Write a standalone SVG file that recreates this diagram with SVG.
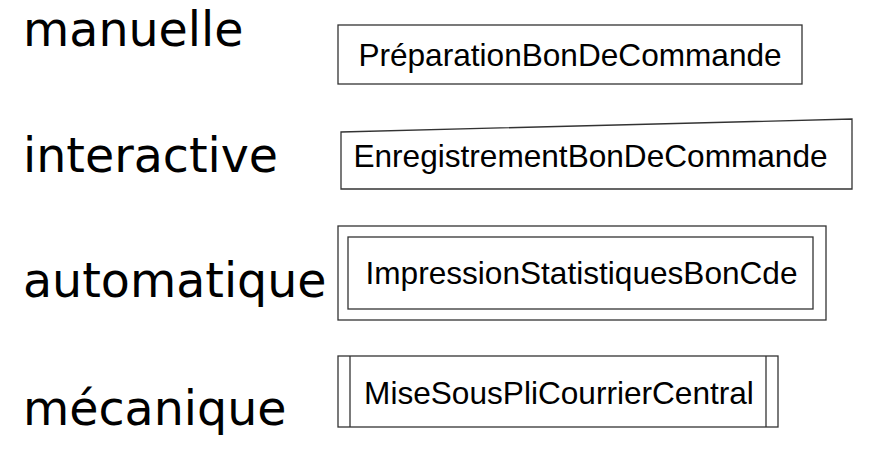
<svg xmlns="http://www.w3.org/2000/svg" width="870" height="461" viewBox="0 0 870 461">
<style>
.lbl{font-family:"DejaVu Sans",sans-serif;font-size:47.5px;fill:#000}
.t{font-family:"Liberation Sans",Arial,sans-serif;font-size:31.6px;fill:#000;text-anchor:middle}
.s{fill:#fff;stroke:#333;stroke-width:1.3}
.l{stroke:#333;stroke-width:1.3;fill:none}
</style>
<rect width="870" height="461" fill="#fff"/>
<text class="lbl" x="23" y="46">manuelle</text>
<text class="lbl" x="23" y="172">interactive</text>
<text class="lbl" x="23" y="297">automatique</text>
<text class="lbl" x="23" y="425">mécanique</text>
<g id="n1">
<rect class="s" x="338" y="25" width="464" height="59"/>
<text class="t" x="570" y="66">PréparationBonDeCommande</text>
</g>
<g id="n2">
<polygon class="s" points="341,132 852,119 852,189 341,189"/>
<text class="t" x="590.5" y="167">EnregistrementBonDeCommande</text>
</g>
<g id="n3">
<rect class="s" x="338" y="226" width="488" height="94"/>
<rect class="s" x="348" y="237" width="465" height="72"/>
<text class="t" x="581.5" y="284">ImpressionStatistiquesBonCde</text>
</g>
<g id="n4">
<rect class="s" x="338" y="356" width="440" height="71"/>
<line class="l" x1="350" y1="356" x2="350" y2="427"/>
<line class="l" x1="766" y1="356" x2="766" y2="427"/>
<text class="t" x="559" y="404">MiseSousPliCourrierCentral</text>
</g>
<g id="connectors"/>
</svg>
